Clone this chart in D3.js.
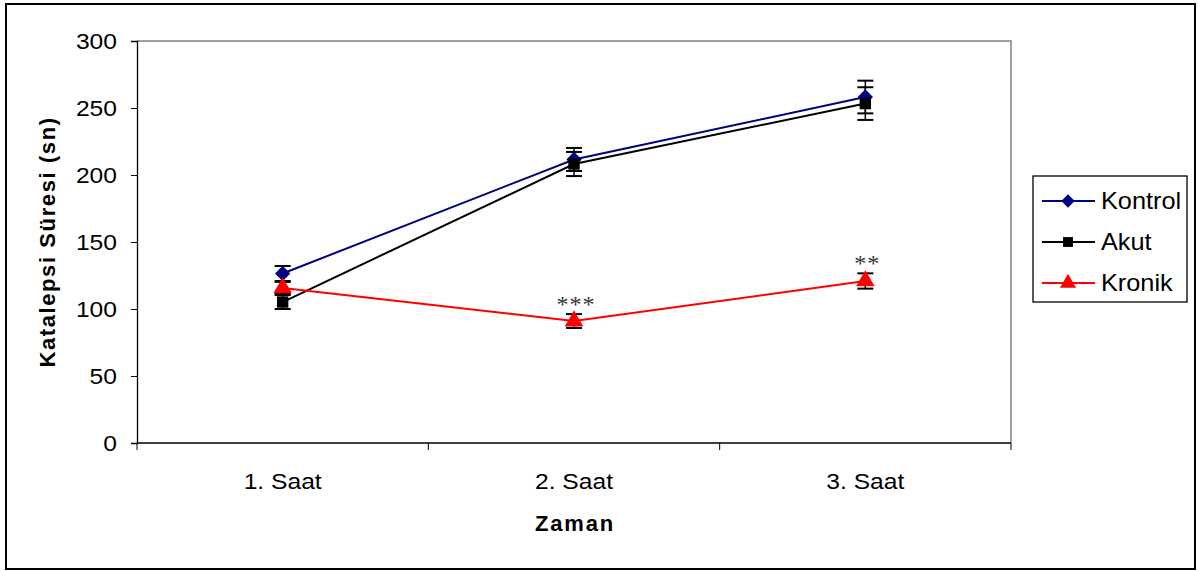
<!DOCTYPE html>
<html>
<head>
<meta charset="utf-8">
<script src="https://cdn.jsdelivr.net/npm/d3@7"></script>
<style>
  html, body { margin: 0; padding: 0; background: #fff; }
  svg { display: block; }
  text { font-family: Arial, "Liberation Sans", sans-serif; }
</style>
</head>
<body>
<svg id="chart" width="1198" height="571"></svg>
<script>
// Time points and group means with their error margins
const categories = ["1. Saat", "2. Saat", "3. Saat"];
const kontrol = [126.5, 211.6, 258.2];
const kontrolErr = [5.6, 8.6, 12.2];
const akut = [105.2, 208.2, 253.3];
const akutErr = [5.2, 9.0, 12.2];
const kronik = [115.7, 91.0, 120.9];
const kronikErr = [4.5, 5.2, 5.7];
const yTicks = [0, 50, 100, 150, 200, 250, 300];
const significance = ["", "***", "**"];

const series = [
  { name: "Kontrol", values: kontrol, err: kontrolErr, color: "#000080", symbol: d3.symbolDiamond2, size: 150 },
  { name: "Akut", values: akut, err: akutErr, color: "#000000", symbol: d3.symbolSquare, size: 130 },
  { name: "Kronik", values: kronik, err: kronikErr, color: "#ff0000", symbol: d3.symbolTriangle, size: 150 }
];

const svg = d3.select("#chart");
const plot = { left: 137, right: 1011, top: 41, bottom: 443 };
const WIDE = 1.12; // horizontal stretch applied to the regular labels

// Outer frame
svg.append("rect")
  .attr("x", 6).attr("y", 4).attr("width", 1189).attr("height", 565)
  .attr("fill", "#fff").attr("stroke", "#000").attr("stroke-width", 2);

const x = d3.scaleBand().domain(categories).range([plot.left, plot.right]).padding(0);
const y = d3.scaleLinear().domain([0, 300]).range([plot.bottom, plot.top]);
const cx = c => x(c) + x.bandwidth() / 2;

// Plot area border (gray top and right)
svg.append("path")
  .attr("d", `M${plot.left},${plot.top}H${plot.right}V${plot.bottom}`)
  .attr("fill", "none").attr("stroke", "#808080").attr("stroke-width", 1.5);

// Y axis
const yAxis = svg.append("g")
  .attr("transform", `translate(${plot.left},0)`)
  .call(d3.axisLeft(y).tickValues(yTicks).tickSize(6));
yAxis.select(".domain").attr("stroke", "#000").attr("stroke-width", 1.3);
yAxis.selectAll(".tick line").attr("stroke", "#000");
yAxis.selectAll("text")
  .attr("font-size", 22).attr("fill", "#000")
  .attr("x", -20 / WIDE)
  .attr("transform", `scale(${WIDE},1)`)
  .style("font-family", "Arial, 'Liberation Sans', sans-serif");

// X axis: ticks on category boundaries
const xAxis = svg.append("g").attr("transform", `translate(0,${plot.bottom})`);
xAxis.append("line")
  .attr("x1", plot.left).attr("x2", plot.right)
  .attr("stroke", "#000").attr("stroke-width", 1.3);
const bounds = categories.map(c => x(c)).concat([plot.right]);
xAxis.selectAll("line.tick").data(bounds).enter().append("line")
  .attr("class", "tick")
  .attr("x1", d => d).attr("x2", d => d).attr("y1", 0).attr("y2", 7)
  .attr("stroke", "#000");
xAxis.selectAll("text").data(categories).enter().append("text")
  .attr("transform", d => `translate(${cx(d)},46) scale(${WIDE},1)`)
  .attr("text-anchor", "middle").attr("font-size", 22).attr("fill", "#000")
  .text(d => d);

// Axis titles
svg.append("text")
  .attr("x", cx(categories[1]) + 1).attr("y", 531)
  .attr("text-anchor", "middle").attr("font-size", 22).attr("font-weight", "bold")
  .style("letter-spacing", "1.8px")
  .text("Zaman");
svg.append("text")
  .attr("transform", `translate(55,${(plot.top + plot.bottom) / 2}) rotate(-90)`)
  .attr("text-anchor", "middle").attr("font-size", 22).attr("font-weight", "bold")
  .style("letter-spacing", "1.6px")
  .text("Katalepsi Süresi (sn)");

const line = d3.line().x((d, i) => cx(categories[i])).y(d => y(d));

// Lines
series.forEach(s => {
  svg.append("path")
    .datum(s.values)
    .attr("d", line)
    .attr("fill", "none").attr("stroke", s.color).attr("stroke-width", 2);
});

// Error bars
series.forEach(s => {
  const g = svg.append("g");
  s.values.forEach((v, i) => {
    const px = cx(categories[i]);
    const top = y(v + s.err[i]), bot = y(v - s.err[i]);
    g.append("line").attr("x1", px).attr("x2", px).attr("y1", top).attr("y2", bot)
      .attr("stroke", "#000").attr("stroke-width", 1.5);
    [top, bot].forEach(yy => {
      g.append("line").attr("x1", px - 8).attr("x2", px + 8).attr("y1", yy).attr("y2", yy)
        .attr("stroke", "#000").attr("stroke-width", 2);
    });
  });
});

// Markers
series.forEach(s => {
  svg.append("g").selectAll("path").data(s.values).enter().append("path")
    .attr("d", d3.symbol().type(s.symbol).size(s.size))
    .attr("transform", (d, i) => `translate(${cx(categories[i])},${y(d)})`)
    .attr("fill", s.color);
});

// Significance markers above Kronik points
svg.append("g").selectAll("text").data(significance).enter().append("text")
  .attr("x", (d, i) => cx(categories[i]) + 2)
  .attr("y", (d, i) => y(kronik[i] + kronikErr[i]) - 2)
  .attr("text-anchor", "middle").attr("font-size", 24).attr("fill", "#333")
  .style("font-family", "'Liberation Serif', 'Times New Roman', serif")
  .style("letter-spacing", "1px")
  .text(d => d);

// Legend
const legend = svg.append("g");
legend.append("rect")
  .attr("x", 1033).attr("y", 176).attr("width", 154).attr("height", 126)
  .attr("fill", "#fff").attr("stroke", "#000").attr("stroke-width", 1.3);
series.forEach((s, i) => {
  const ly = 201 + i * 41;
  legend.append("line").attr("x1", 1042).attr("x2", 1095).attr("y1", ly).attr("y2", ly)
    .attr("stroke", s.color).attr("stroke-width", 2);
  legend.append("path")
    .attr("d", d3.symbol().type(s.symbol).size(s.size * 0.75))
    .attr("transform", `translate(1068,${ly})`)
    .attr("fill", s.color);
  legend.append("text")
    .attr("transform", `translate(1101,${ly + 8}) scale(1.1,1)`)
    .attr("font-size", 23).attr("fill", "#000")
    .text(s.name);
});
</script>
</body>
</html>
